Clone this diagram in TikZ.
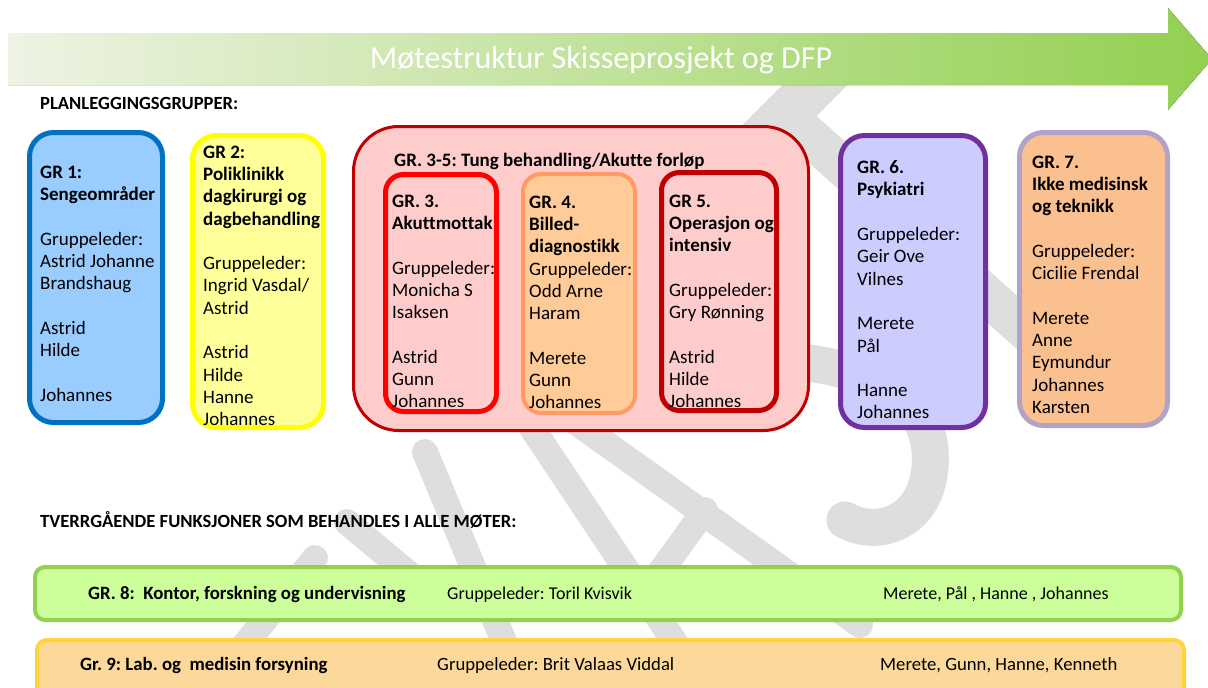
\documentclass[tikz,border=0pt]{standalone}
\usepackage{fontspec}
\setmainfont{Carlito}[Ligatures=NoCommon]
\usepackage{tikz}
\frenchspacing

\definecolor{wmgrey}{HTML}{DEDEDE}
\definecolor{arrowpale}{HTML}{EEF3E4}
\definecolor{arrowgreen}{HTML}{92D050}
\definecolor{gr1fill}{HTML}{99CCFF}
\definecolor{gr1line}{HTML}{0070C0}
\definecolor{gr2fill}{HTML}{FFFF99}
\definecolor{gr2line}{HTML}{FFFF00}
\definecolor{grpfill}{HTML}{FFCCCC}
\definecolor{grpline}{HTML}{C00000}
\definecolor{gr3line}{HTML}{FF0000}
\definecolor{gr4fill}{HTML}{FFCC99}
\definecolor{gr4line}{HTML}{FF9966}
\definecolor{gr6fill}{HTML}{CCCCFF}
\definecolor{gr6line}{HTML}{7030A0}
\definecolor{gr7fill}{HTML}{FAC090}
\definecolor{gr7line}{HTML}{B3A2C7}
\definecolor{gr8fill}{HTML}{CCFF99}
\definecolor{gr8line}{HTML}{92D050}
\definecolor{gr9fill}{HTML}{FCD99B}
\definecolor{gr9line}{HTML}{FFD43B}

\begin{document}
\begin{tikzpicture}[x=1pt,y=-1pt]
  \newcommand{\lsk}{22.3pt};
  \useasboundingbox (0,0) rectangle (1208,688);
  \tikzstyle{wmark}=[draw=wmgrey, line cap=round];
  \tikzstyle{grbox}=[draw, line width=5pt, rounded corners=24pt, inner sep=0pt];
  \tikzstyle{rowbox}=[draw, line width=4pt, rounded corners=10pt, inner sep=0pt];
  \tikzstyle{grtext}=[anchor=north west, align=left, inner sep=0pt,
    font=\fontsize{19}{22.3}\selectfont];
  \tikzstyle{hdr}=[anchor=west, inner sep=0pt, text height=13pt, text depth=3pt,
    font=\fontsize{18.6}{22}\selectfont\bfseries];
  \tikzstyle{rowtext}=[anchor=west, inner sep=0pt, text height=13pt, text depth=3pt,
    font=\fontsize{18}{21}\selectfont];

  % watermark
  \draw[wmark, line width=46pt] (840,60) -- (730,170);
  \draw[wmark, line width=40pt] (800,128) -- (1070,370);
  \draw[wmark, line width=37pt] (760,358) .. controls (880,365) and (925,400) .. (930,450)
    .. controls (935,520) and (880,540) .. (845,520);
  \draw[wmark, line width=26pt] (425,452) -- (520,680);
  \draw[wmark, line width=26pt] (500,380) -- (700,680);
  \draw[wmark, line width=26pt] (545,400) -- (860,625);
  \draw[wmark, line width=26pt] (705,510) -- (640,600);
  \draw[wmark, line width=26pt] (347,522) -- (440,600);
  \draw[wmark, line width=26pt] (315,558) -- (200,700);

  % arrow
  \fill[left color=arrowpale, right color=arrowgreen]
    (8,33) -- (1168,33) -- (1168,8) -- (1212,59) -- (1168,110) -- (1168,85) -- (8,85) -- cycle;
  \node[text=white, font=\fontsize{32}{38}\selectfont] (title) at (601,60)
    {Møtestruktur Skisseprosjekt og DFP};

  \node[hdr] (plan) at (40,104) {PLANLEGGINGSGRUPPER:};
  \node[hdr] (tverr) at (40,522) {TVERRGÅENDE FUNKSJONER SOM BEHANDLES I ALLE MØTER:};

  % planning groups
  \node[grbox, draw=gr1line, fill=gr1fill, minimum width=133pt, minimum height=290pt] (gr1) at (96,277.5) {};
  \node[grbox, draw=gr2line, fill=gr2fill, minimum width=131pt, minimum height=292pt] (gr2) at (258,281.5) {};
  \node[grbox, draw=grpline, fill=grpfill, line width=3pt, rounded corners=45pt,
    minimum width=455pt, minimum height=304pt] (grp) at (581,278.5) {};
  \node[grbox, draw=gr3line, fill=grpfill, rounded corners=18pt, minimum width=111pt, minimum height=237pt] (gr3) at (441,293) {};
  \node[grbox, draw=gr4line, fill=gr4fill, line width=4pt, rounded corners=18pt, minimum width=112pt, minimum height=239pt] (gr4) at (579,293.5) {};
  \node[grbox, draw=grpline, fill=grpfill, rounded corners=18pt, minimum width=115pt, minimum height=238pt] (gr5) at (719,291.5) {};
  \node[grbox, draw=gr6line, fill=gr6fill, minimum width=145pt, minimum height=292pt] (gr6) at (913,281.5) {};
  \node[grbox, draw=gr7line, fill=gr7fill, minimum width=148pt, minimum height=293pt] (gr7) at (1093.5,279) {};

  \node[grtext] (gr1txt) at (40,165.5) {\textbf{GR 1:}\\\textbf{Sengeområder}\\[\lsk]
    Gruppeleder:\\Astrid Johanne\\Brandshaug\\[\lsk]Astrid\\Hilde\\[\lsk]Johannes};
  \node[grtext] (gr2txt) at (203,145.5) {\textbf{GR 2:}\\\textbf{Poliklinikk}\\\textbf{dagkirurgi og}\\\textbf{dagbehandling}\\[\lsk]
    Gruppeleder:\\Ingrid Vasdal/\\Astrid\\[\lsk]Astrid\\Hilde\\Hanne\\Johannes};
  \node[grtext] (grptxt) at (394,152.5) {\textbf{GR. 3-5: Tung behandling/Akutte forløp}};
  \node[grtext] (gr3txt) at (392,194.5) {\textbf{GR. 3.}\\\textbf{Akuttmottak}\\[\lsk]
    Gruppeleder:\\Monicha S\\Isaksen\\[\lsk]Astrid\\Gunn\\Johannes};
  \node[grtext] (gr4txt) at (529,195.5) {\textbf{GR. 4.}\\\textbf{Billed-}\\\textbf{diagnostikk}\\
    Gruppeleder:\\Odd Arne\\Haram\\[\lsk]Merete\\Gunn\\Johannes};
  \node[grtext] (gr5txt) at (669,194.5) {\textbf{GR 5.}\\\textbf{Operasjon og}\\\textbf{intensiv}\\[\lsk]
    Gruppeleder:\\Gry Rønning\\[\lsk]Astrid\\Hilde\\Johannes};
  \node[grtext] (gr6txt) at (857,160.5) {\textbf{GR. 6.}\\\textbf{Psykiatri}\\[\lsk]
    Gruppeleder:\\Geir Ove\\Vilnes\\[\lsk]Merete\\Pål\\[\lsk]Hanne\\Johannes};
  \node[grtext] (gr7txt) at (1032,155.5) {\textbf{GR. 7.}\\\textbf{Ikke medisinsk}\\\textbf{og teknikk}\\[\lsk]
    Gruppeleder:\\Cicilie Frendal\\[\lsk]Merete\\Anne\\Eymundur\\Johannes\\Karsten};

  % cross-cutting groups
  \node[rowbox, draw=gr8line, fill=gr8fill, minimum width=1146pt, minimum height=53pt] (gr8) at (608,593.5) {};
  \node[rowbox, draw=gr9line, fill=gr9fill, minimum width=1147pt, minimum height=58pt] (gr9) at (610.5,669) {};
  \node[rowtext, font=\fontsize{18.8}{22}\selectfont\bfseries] (gr8name) at (88,594) {GR. 8:\ \ Kontor, forskning og undervisning};
  \node[rowtext] (gr8lead) at (447,594) {Gruppeleder: Toril Kvisvik};
  \node[rowtext] (gr8memb) at (883,594) {Merete, Pål , Hanne , Johannes};
  \node[rowtext, font=\fontsize{18.8}{22}\selectfont\bfseries] (gr9name) at (80,665) {Gr. 9: Lab. og\ \ medisin forsyning};
  \node[rowtext, font=\fontsize{18.7}{22}\selectfont] (gr9lead) at (437,665) {Gruppeleder: Brit Valaas Viddal};
  \node[rowtext, font=\fontsize{18.7}{22}\selectfont] (gr9memb) at (880,665) {Merete, Gunn, Hanne, Kenneth};
\end{tikzpicture}
\end{document}
